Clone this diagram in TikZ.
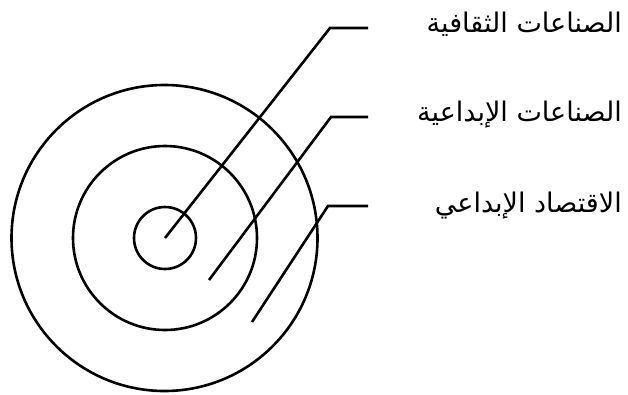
\documentclass[tikz,border=0pt]{standalone}
\usepackage{fontspec}
\newfontfamily\arabicfont[Script=Arabic]{DejaVu Sans}
\TeXXeTstate=1
\begin{document}
\begin{tikzpicture}[x=1pt,y=-1pt,
  ring/.style={circle,draw,line width=2.6pt,inner sep=0pt},
  lead/.style={line width=2.6pt},
  lbl/.style={anchor=base east,inner sep=0pt,font=\arabicfont\fontsize{27}{32}\selectfont}]
\useasboundingbox (0,0) rectangle (628,394);
\node[ring,minimum size=306pt] (outer) at (164.5,238) {};
\node[ring,minimum size=184pt] (middle) at (165,238) {};
\node[ring,minimum size=62pt] (inner) at (165,238) {};
\coordinate (s1) at (165,238);
\coordinate (s2) at (209,280);
\coordinate (s3) at (252,322);
\coordinate (k1) at (330,28);
\coordinate (k2) at (331,117);
\coordinate (k3) at (328,206);
\coordinate (e1) at (368,28);
\coordinate (e2) at (368,117);
\coordinate (e3) at (368,206);
\draw[lead] (s1) -- (k1) -- (e1);
\draw[lead] (s2) -- (k2) -- (e2);
\draw[lead] (s3) -- (k3) -- (e3);
\node[lbl] (t1) at (622,32) {\beginR الصناعات الثقافية\endR};
\node[lbl] (t2) at (622,121) {\beginR الصناعات الإبداعية\endR};
\node[lbl] (t3) at (622,212) {\beginR الاقتصاد الإبداعي\endR};
\end{tikzpicture}
\end{document}
